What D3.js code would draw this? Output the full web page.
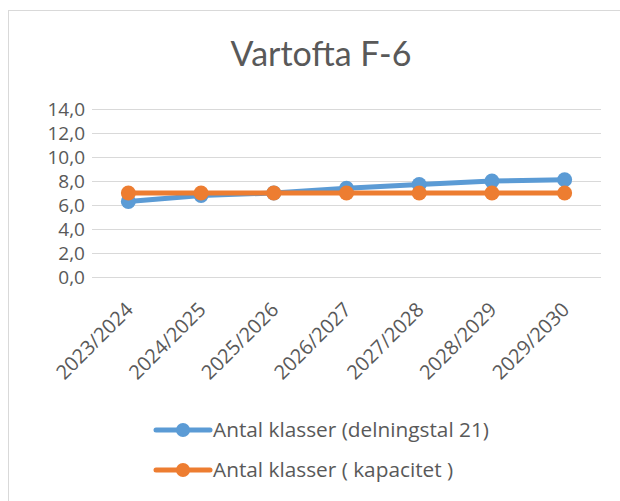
<!DOCTYPE html>
<html>
<head>
<meta charset="utf-8">
<script src="https://cdn.jsdelivr.net/npm/d3@7"></script>
<style>
  body { margin: 0; background: #fff; }
  svg { display: block; font-family: "Open Sans", sans-serif; }
</style>
</head>
<body>
<svg id="svg" width="620" height="501"></svg>
<script>
// data
const years = ["2023/2024", "2024/2025", "2025/2026", "2026/2027", "2027/2028", "2028/2029", "2029/2030"];
const delningstal = [6.3, 6.8, 7.0, 7.4, 7.7, 8.0, 8.1];
const kapacitet = [7.0, 7.0, 7.0, 7.0, 7.0, 7.0, 7.0];
const yTicks = [0, 2, 4, 6, 8, 10, 12, 14];
const seriesNames = ["Antal klasser (delningstal 21)", "Antal klasser ( kapacitet )"];
const colors = ["#5B9BD5", "#ED7D31"];

const svg = d3.select("#svg");

// ram runt diagrammet
svg.append("rect")
   .attr("x", 8.5).attr("y", 10.5)
   .attr("width", 640).attr("height", 520)
   .attr("fill", "#fff")
   .attr("stroke", "#d9d9d9");

svg.append("text")
   .attr("x", 321).attr("y", 66)
   .attr("text-anchor", "middle")
   .style("font-family", "Lato, sans-serif")
   .style("font-size", "34px")
   .style("fill", "#595959")
   .text("Vartofta F-6");

const plotLeft = 92, plotRight = 601, plotTop = 109, plotBottom = 277;

const x = d3.scaleBand().domain(years).range([plotLeft, plotRight]);
const y = d3.scaleLinear().domain([0, 14]).range([plotBottom, plotTop]);

// stödlinjer
svg.append("g")
   .selectAll("line")
   .data(yTicks)
   .join("line")
   .attr("x1", plotLeft).attr("x2", plotRight)
   .attr("y1", d => y(d) + 0.5).attr("y2", d => y(d) + 0.5)
   .attr("stroke", "#d9d9d9")
   .attr("stroke-width", 1);

const fmt = d => d.toFixed(1).replace(".", ",");

svg.append("g")
   .selectAll("text")
   .data(yTicks)
   .join("text")
   .attr("x", 85)
   .attr("y", d => y(d))
   .attr("dy", "0.35em")
   .attr("text-anchor", "end")
   .style("font-size", "19px")
   .style("fill", "#595959")
   .text(fmt);

// x-etiketter, roterade
svg.append("g")
   .selectAll("text")
   .data(years)
   .join("text")
   .attr("transform", d => "translate(" + (x(d) + x.bandwidth() / 2 + 1) + ",306) rotate(-45)")
   .attr("text-anchor", "end")
   .attr("dy", "0.35em")
   .style("font-size", "20px")
   .style("fill", "#595959")
   .text(d => d);

const line = d3.line()
   .x((d, i) => x(years[i]) + x.bandwidth() / 2)
   .y(d => y(d));

[delningstal, kapacitet].forEach(function(vals, k) {
  svg.append("path")
     .datum(vals)
     .attr("d", line)
     .attr("fill", "none")
     .attr("stroke", colors[k])
     .attr("stroke-width", 5)
     .attr("stroke-linejoin", "round")
     .attr("stroke-linecap", "round");
  svg.append("g")
     .selectAll("circle")
     .data(vals)
     .join("circle")
     .attr("cx", (d, i) => x(years[i]) + x.bandwidth() / 2)
     .attr("cy", d => y(d))
     .attr("r", 7.5)
     .attr("fill", colors[k]);
});

// förklaring
const legend = svg.append("g")
   .selectAll("g")
   .data(seriesNames)
   .join("g")
   .attr("transform", (d, i) => "translate(0," + (430 + i * 40) + ")");

legend.append("line")
   .attr("x1", 156).attr("x2", 210)
   .attr("stroke", (d, i) => colors[i])
   .attr("stroke-width", 5)
   .attr("stroke-linecap", "round");
legend.append("circle")
   .attr("cx", 183).attr("r", 7)
   .attr("fill", (d, i) => colors[i]);
legend.append("text")
   .attr("x", 213)
   .attr("dy", "0.35em")
   .style("font-size", "20.8px")
   .style("fill", "#595959")
   .text(d => d);
</script>
</body>
</html>
